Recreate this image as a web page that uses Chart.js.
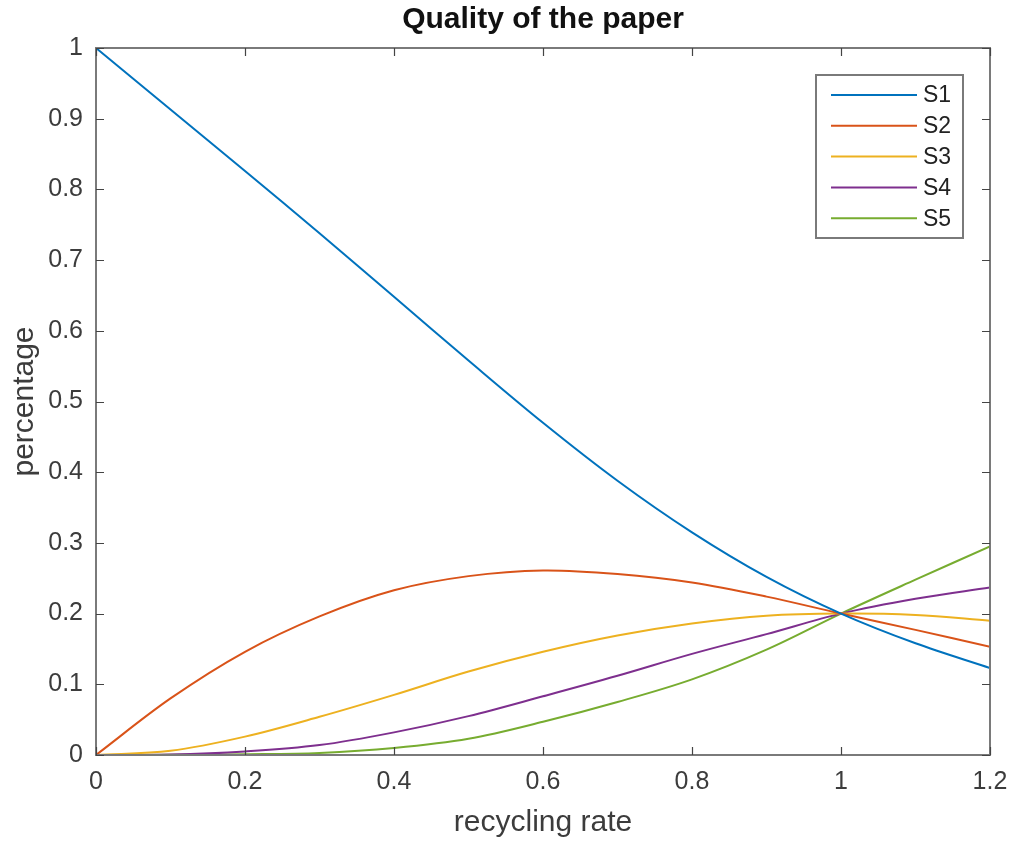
<!DOCTYPE html>
<html>
<head>
<meta charset="utf-8">
<script src="https://cdn.jsdelivr.net/npm/chart.js@4"></script>
<style>
  body { margin: 0; background: #fff; }
  #wrap { width: 1014px; height: 841px; }
</style>
</head>
<body>
<div id="wrap"><canvas id="c" width="1014" height="841"></canvas></div>
<script>
// recycling rate values (x)
const rates = [0, 0.1, 0.2, 0.3, 0.4, 0.5, 0.6, 0.7, 0.8, 0.9, 1.0, 1.1, 1.2];

const s1 = [1.0, 0.913, 0.826, 0.738, 0.648, 0.558, 0.47, 0.388, 0.315, 0.252, 0.2, 0.158, 0.123];
const s2 = [0, 0.08, 0.146, 0.196, 0.233, 0.253, 0.261, 0.256, 0.244, 0.224, 0.2, 0.177, 0.153];
const s3 = [0, 0.006, 0.026, 0.054, 0.085, 0.118, 0.146, 0.169, 0.186, 0.197, 0.2, 0.198, 0.19];
const s4 = [0, 0.0006, 0.005, 0.014, 0.032, 0.055, 0.083, 0.112, 0.143, 0.171, 0.2, 0.221, 0.237];
const s5 = [0, 0.0002, 0.001, 0.003, 0.01, 0.023, 0.047, 0.075, 0.107, 0.149, 0.2, 0.248, 0.295];

const seriesNames = ["S1", "S2", "S3", "S4", "S5"];
const seriesColors = ["#0072BD", "#D95319", "#EDB120", "#7E2F8E", "#77AC30"];
const seriesValues = [s1, s2, s3, s4, s5];

const xTicks = [0, 0.2, 0.4, 0.6, 0.8, 1, 1.2];
const yTicks = [0, 0.1, 0.2, 0.3, 0.4, 0.5, 0.6, 0.7, 0.8, 0.9, 1];

const titleText = "Quality of the paper";
const axisColor = "#7a7a7a";
const textColor = "#3c3c3c";
const font = "'Liberation Sans', Arial, sans-serif";

const toPoints = ys => ys.map((y, i) => ({x: rates[i], y: y}));

// box round the plot, inward ticks on all four sides, title over the plot, and the legend
const matlabAxes = {
    id: "matlabAxes",
    afterDatasetsDraw(chart) {
        const {ctx, chartArea: a, scales} = chart;
        const tick = 8;
        ctx.save();
        ctx.strokeStyle = axisColor;
        ctx.lineWidth = 2;
        ctx.strokeRect(a.left, a.top, a.right - a.left, a.bottom - a.top);
        ctx.strokeStyle = "#444";
        ctx.lineWidth = 1.2;
        ctx.beginPath();
        for (const v of xTicks) {
            const px = Math.round(scales.x.getPixelForValue(v)) + 0.5;
            ctx.moveTo(px, a.bottom); ctx.lineTo(px, a.bottom - tick);
            ctx.moveTo(px, a.top); ctx.lineTo(px, a.top + tick);
        }
        for (const v of yTicks) {
            const py = Math.round(scales.y.getPixelForValue(v)) + 0.5;
            ctx.moveTo(a.left, py); ctx.lineTo(a.left + tick, py);
            ctx.moveTo(a.right, py); ctx.lineTo(a.right - tick, py);
        }
        ctx.stroke();

        // title, centred on the plot box
        ctx.fillStyle = "#111";
        ctx.font = "bold 30px " + font;
        ctx.textAlign = "center";
        ctx.textBaseline = "middle";
        ctx.fillText(titleText, (a.left + a.right) / 2, 20);

        // legend box
        const lx = 816, ly = 75, lw = 147, lh = 163;
        ctx.fillStyle = "#fff";
        ctx.fillRect(lx, ly, lw, lh);
        ctx.strokeStyle = axisColor;
        ctx.lineWidth = 2;
        ctx.strokeRect(lx, ly, lw, lh);
        ctx.font = "23px " + font;
        ctx.textBaseline = "middle";
        ctx.textAlign = "left";
        chart.data.datasets.forEach((ds, i) => {
            const y = 95 + i * 30.8;
            ctx.strokeStyle = ds.borderColor;
            ctx.lineWidth = 2;
            ctx.beginPath();
            ctx.moveTo(831, y); ctx.lineTo(917, y);
            ctx.stroke();
            ctx.fillStyle = "#222";
            ctx.fillText(ds.label, 923, y + 1);
        });
        ctx.restore();
    }
};

new Chart(document.getElementById("c"), {
    type: "line",
    data: {
        datasets: seriesNames.map((name, i) => ({
            label: name,
            data: toPoints(seriesValues[i]),
            borderColor: seriesColors[i],
            backgroundColor: seriesColors[i],
            borderWidth: 2,
            pointRadius: 0,
            tension: 0.35,
            fill: false
        }))
    },
    options: {
        responsive: false,
        animation: false,
        layout: {padding: {left: 0, right: 24, top: 48, bottom: 0}},
        plugins: {
            legend: {display: false},
            tooltip: {enabled: false},
            title: {display: false}
        },
        scales: {
            x: {
                type: "linear",
                min: 0,
                max: 1.2,
                afterBuildTicks: s => { s.ticks = xTicks.map(v => ({value: v})); },
                afterFit: s => { s.height = 86; s.paddingLeft = 0; s.paddingRight = 0; },
                grid: {display: false, drawTicks: false},
                border: {display: false},
                ticks: {color: textColor, font: {family: font, size: 25}, padding: 12, maxRotation: 0,
                        callback: v => String(v)},
                title: {
                    display: true,
                    text: "recycling rate",
                    color: textColor,
                    font: {family: font, size: 30},
                    padding: {top: 0, bottom: 0}
                }
            },
            y: {
                min: 0,
                max: 1,
                afterBuildTicks: s => { s.ticks = yTicks.map(v => ({value: v})); },
                afterFit: s => { s.width = 96; },
                grid: {display: false, drawTicks: false},
                border: {display: false},
                ticks: {color: textColor, font: {family: font, size: 25}, padding: 13,
                        callback: v => String(v)},
                title: {
                    display: true,
                    text: "percentage",
                    color: textColor,
                    font: {family: font, size: 30},
                    padding: {top: 7, bottom: 7}
                }
            }
        }
    },
    plugins: [matlabAxes]
});
</script>
</body>
</html>
